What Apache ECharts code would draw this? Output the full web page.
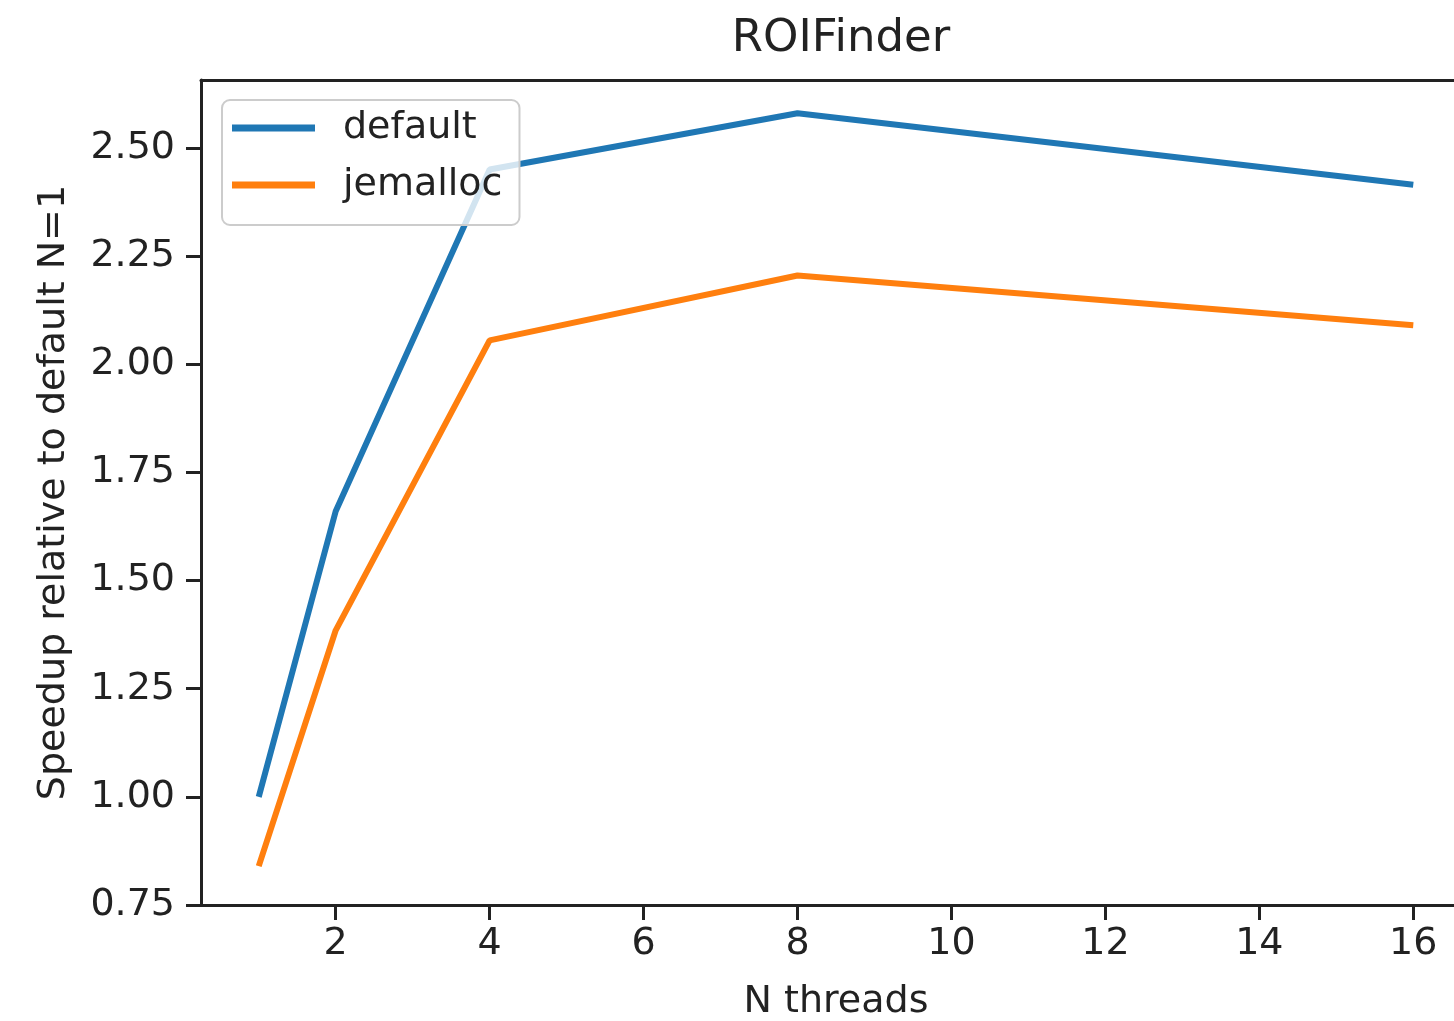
<!DOCTYPE html>
<html>
<head>
<meta charset="utf-8">
<script src="https://cdn.jsdelivr.net/npm/echarts@6/dist/echarts.min.js"></script>
<style>
  html, body { margin: 0; padding: 0; background: #ffffff; }
  #chart { width: 1454px; height: 1021px; }
</style>
</head>
<body>
<div id="chart"></div>
<script>
const threads = [1, 2, 4, 8, 16];
const defaultVals = [1.00, 1.66, 2.45, 2.58, 2.415];
const jemallocVals = [0.84, 1.385, 2.055, 2.205, 2.09];
const xTicks = [2, 4, 6, 8, 10, 12, 14, 16];
const yTicks = [0.75, 1.00, 1.25, 1.50, 1.75, 2.00, 2.25, 2.50];
const seriesNames = ['default', 'jemalloc'];
const titleText = 'ROIFinder';
const xName = 'N threads';
const yName = 'Speedup relative to default N=1';

const FONT = 'DejaVu Sans';
const chart = echarts.init(document.getElementById('chart'), null, { renderer: 'canvas' });

function pairs(xs, ys) { return xs.map((x, i) => [x, ys[i]]); }

const axisLineStyle = { color: '#222222', width: 3 };

chart.setOption({
  animation: false,
  backgroundColor: '#ffffff',
  title: {
    text: titleText,
    left: 836, textAlign: 'center',
    top: 12,
    textStyle: { fontFamily: FONT, fontSize: 45, fontWeight: 'normal', color: '#222222' }
  },
  grid: {
    left: 201, top: 80, width: 1270, height: 825,
    containLabel: false, outerBoundsMode: 'none',
    show: false
  },
  legend: {
    orient: 'vertical',
    left: 222, top: 100,
    padding: [9, 17, 21, 10],
    itemWidth: 83, itemHeight: 7, itemGap: 19,
    backgroundColor: 'rgba(255,255,255,0.8)',
    borderColor: '#cccccc', borderWidth: 2, borderRadius: 8,
    icon: 'rect',
    textStyle: { fontFamily: FONT, fontSize: 38, color: '#222222', lineHeight: 38, padding: [0, 0, 0, 23] },
    data: seriesNames
  },
  xAxis: [
    {
      type: 'value', position: 'bottom',
      min: 0.25, max: 16.75,
      name: xName, nameLocation: 'middle', nameGap: 78,
      nameTextStyle: { fontFamily: FONT, fontSize: 38, color: '#222222' },
      axisLine: { show: true, onZero: false, lineStyle: axisLineStyle },
      axisTick: { show: true, length: 15, lineStyle: axisLineStyle, customValues: xTicks },
      axisLabel: { fontFamily: FONT, fontSize: 38, color: '#222222', margin: 20, customValues: xTicks },
      splitLine: { show: false }
    },
    {
      type: 'value', position: 'top',
      min: 0.25, max: 16.75,
      axisLine: { show: true, onZero: false, lineStyle: axisLineStyle },
      axisTick: { show: false },
      axisLabel: { show: false },
      splitLine: { show: false }
    }
  ],
  yAxis: {
    type: 'value',
    min: 0.75, max: 2.657,
    name: yName, nameLocation: 'middle', nameGap: 128, nameRotate: 90,
    nameTextStyle: { fontFamily: FONT, fontSize: 38, color: '#222222' },
    axisLine: { show: true, onZero: false, lineStyle: axisLineStyle },
    axisTick: { show: true, length: 15, lineStyle: axisLineStyle, customValues: yTicks },
    axisLabel: { fontFamily: FONT, fontSize: 38, color: '#222222', margin: 26, customValues: yTicks,
      formatter: v => v.toFixed(2) },
    splitLine: { show: false }
  },
  series: [
    {
      name: seriesNames[0], type: 'line', data: pairs(threads, defaultVals),
      symbol: 'none', color: '#1f77b4',
      lineStyle: { width: 6, color: '#1f77b4' }, itemStyle: { color: '#1f77b4' }
    },
    {
      name: seriesNames[1], type: 'line', data: pairs(threads, jemallocVals),
      symbol: 'none', color: '#ff7f0e',
      lineStyle: { width: 6, color: '#ff7f0e' }, itemStyle: { color: '#ff7f0e' }
    }
  ]
});
</script>
</body>
</html>
